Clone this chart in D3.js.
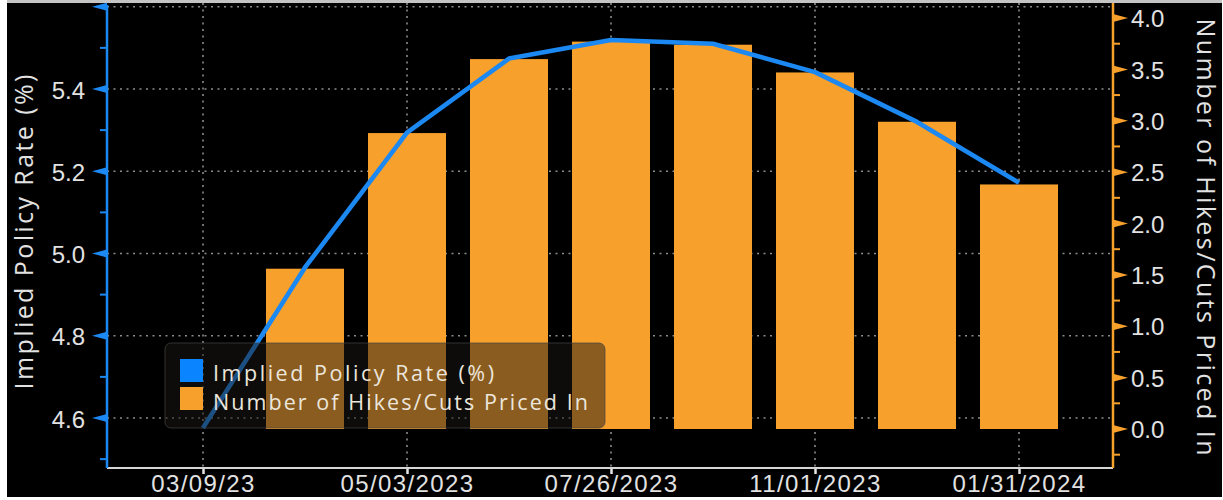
<!DOCTYPE html>
<html>
<head>
<meta charset="utf-8">
<script src="https://cdn.jsdelivr.net/npm/d3@7"></script>
<style>
  body { margin: 0; background: #fff; }
  svg { display: block; font-family: "Open Sans", "DejaVu Sans", sans-serif; }
</style>
</head>
<body>
<svg id="chart" width="1223" height="500"></svg>
<script>
// FOMC meeting dates (first entry is the pricing date)
const meetings = ["03/09/23", "03/22/2023", "05/03/2023", "06/14/2023", "07/26/2023",
                  "09/20/2023", "11/01/2023", "12/13/2023", "01/31/2024"];
const tickLabels = ["03/09/23", "05/03/2023", "07/26/2023", "11/01/2023", "01/31/2024"];
const tickMeetings = ["03/09/23", "05/03/2023", "07/26/2023", "11/01/2023", "01/31/2024"];

// Implied policy rate (%) at each meeting
const impliedRate = [4.576, 4.966, 5.294, 5.474, 5.519, 5.510, 5.441, 5.320, 5.172];
// Number of hikes/cuts priced in (no bar on the pricing date)
const hikesPricedIn = [null, 1.56, 2.88, 3.60, 3.77, 3.74, 3.47, 2.99, 2.38];

const rateTicks = [4.6, 4.8, 5.0, 5.2, 5.4, 5.6];
const rateMinor = [4.5, 4.7, 4.9, 5.1, 5.3, 5.5];
const hikeTicks = [0, 0.5, 1.0, 1.5, 2.0, 2.5, 3.0, 3.5, 4.0];
const hikeMinor = [-0.25, 0.25, 0.75, 1.25, 1.75, 2.25, 2.75, 3.25, 3.75];

const seriesNames = ["Implied Policy Rate (%)", "Number of Hikes/Cuts Priced In"];

const BLUE = "#1c88f2", BLUE_SW = "#0b85ff", ORANGE = "#f8a02c";
const TEXT = "#e2e2e2";

const svg = d3.select("#chart");
const frame = { left: 107, right: 1113, top: 3, bottom: 468 };

const x = d3.scalePoint().domain(meetings).range([203, 1019]);
const yRate = d3.scaleLinear().domain([4.6, 5.4]).range([418, 89]);
const yHikes = d3.scaleLinear().domain([0, 4]).range([429, 18]);

// page frame
svg.append("rect").attr("x", 7).attr("y", 0).attr("width", 1215).attr("height", 3).attr("fill", "#c4c4c4");
svg.append("rect").attr("x", 7).attr("y", 3).attr("width", 1215).attr("height", 494).attr("fill", "#000");

// dotted grid
const grid = svg.append("g").attr("stroke", "#8c8c8c").attr("stroke-width", 1.6)
  .attr("stroke-dasharray", "2,4.5");
grid.selectAll("line.h").data(rateTicks).join("line").attr("class", "h")
  .attr("x1", frame.left).attr("x2", frame.right)
  .attr("y1", d => yRate(d)).attr("y2", d => yRate(d));
grid.selectAll("line.v").data(tickMeetings).join("line").attr("class", "v")
  .attr("x1", d => x(d)).attr("x2", d => x(d))
  .attr("y1", frame.top).attr("y2", frame.bottom);

// bars
const barW = 78;
svg.append("g").selectAll("rect")
  .data(meetings.map((m, i) => ({ m, v: hikesPricedIn[i] })).filter(d => d.v != null))
  .join("rect")
  .attr("x", d => x(d.m) - barW / 2)
  .attr("width", barW)
  .attr("y", d => yHikes(d.v))
  .attr("height", d => yHikes(0) - yHikes(d.v))
  .attr("fill", ORANGE);

// implied rate line
const line = d3.line().x((d, i) => x(meetings[i])).y(d => yRate(d));
svg.append("path").datum(impliedRate)
  .attr("d", line)
  .attr("fill", "none")
  .attr("stroke", BLUE)
  .attr("stroke-width", 4.6)
  .attr("stroke-linejoin", "round");

// x axis
const xAxis = d3.axisBottom(x).tickValues(tickMeetings)
  .tickFormat((d, i) => tickLabels[i]).tickSize(6).tickPadding(1);
const gx = svg.append("g").attr("transform", `translate(0,${frame.bottom})`).call(xAxis);
gx.select(".domain").remove();
gx.selectAll(".tick line").attr("stroke", "#e6e6e6").attr("stroke-width", 2.5);
gx.selectAll(".tick text").attr("fill", TEXT).attr("font-size", 24)
  .attr("letter-spacing", 1.4).attr("font-family", null);
svg.append("line").attr("x1", frame.left).attr("x2", frame.right)
  .attr("y1", frame.bottom).attr("y2", frame.bottom)
  .attr("stroke", "#d6d6d6").attr("stroke-width", 2);

// left axis (policy rate)
const gl = svg.append("g").attr("transform", `translate(${frame.left},0)`)
  .call(d3.axisLeft(yRate).tickValues(rateTicks).tickSize(0).tickPadding(22)
    .tickFormat(d => d > 5.5 ? "" : d3.format(".1f")(d)));
gl.select(".domain").remove();
gl.selectAll(".tick text").attr("fill", TEXT).attr("font-size", 24).attr("dy", "0.38em")
  .attr("font-family", null);
svg.append("line").attr("x1", frame.left).attr("x2", frame.left)
  .attr("y1", 5).attr("y2", frame.bottom).attr("stroke", BLUE).attr("stroke-width", 2.5);
svg.append("g").selectAll("path").data(rateTicks).join("path")
  .attr("d", d => `M${frame.left},${yRate(d) - 4}L${frame.left - 15},${yRate(d)}L${frame.left},${yRate(d) + 4}Z`)
  .attr("fill", BLUE);
svg.append("g").selectAll("line").data(rateMinor).join("line")
  .attr("x1", frame.left - 7).attr("x2", frame.left)
  .attr("y1", d => yRate(d)).attr("y2", d => yRate(d))
  .attr("stroke", BLUE).attr("stroke-width", 2);

// right axis (hikes/cuts)
const gr = svg.append("g").attr("transform", `translate(${frame.right},0)`)
  .call(d3.axisRight(yHikes).tickValues(hikeTicks).tickSize(0).tickPadding(18)
    .tickFormat(d3.format(".1f")));
gr.select(".domain").remove();
gr.selectAll(".tick text").attr("fill", TEXT).attr("font-size", 24).attr("dy", "0.36em")
  .attr("font-family", null);
svg.append("line").attr("x1", frame.right).attr("x2", frame.right)
  .attr("y1", frame.top).attr("y2", frame.bottom).attr("stroke", ORANGE).attr("stroke-width", 2.5);
svg.append("g").selectAll("path").data(hikeTicks).join("path")
  .attr("d", d => `M${frame.right},${yHikes(d) - 4}L${frame.right + 15},${yHikes(d)}L${frame.right},${yHikes(d) + 4}Z`)
  .attr("fill", ORANGE);
svg.append("g").selectAll("line").data(hikeMinor).join("line")
  .attr("x1", frame.right).attr("x2", frame.right + 7)
  .attr("y1", d => yHikes(d)).attr("y2", d => yHikes(d))
  .attr("stroke", ORANGE).attr("stroke-width", 2);

// axis titles
svg.append("text")
  .attr("transform", "translate(33,232) rotate(-90)")
  .attr("text-anchor", "middle").attr("font-size", 25).attr("fill", TEXT)
  .attr("textLength", 315).attr("lengthAdjust", "spacing")
  .text(seriesNames[0]);
svg.append("text")
  .attr("transform", "translate(1197,237) rotate(90)")
  .attr("text-anchor", "middle").attr("font-size", 25).attr("fill", TEXT)
  .attr("textLength", 437).attr("lengthAdjust", "spacing")
  .text(seriesNames[1]);

// legend
const lg = svg.append("g");
lg.append("rect").attr("x", 165).attr("y", 343).attr("width", 440).attr("height", 85).attr("rx", 6)
  .attr("fill", "rgba(28,24,20,0.5)").attr("stroke", "rgba(70,70,70,0.7)").attr("stroke-width", 1);
const legendItems = [
  { name: seriesNames[0], color: BLUE_SW, y: 359, base: 380.5, len: 281 },
  { name: seriesNames[1], color: ORANGE, y: 387, base: 410, len: 375 }
];
legendItems.forEach(it => {
  lg.append("rect").attr("x", 180).attr("y", it.y).attr("width", 23).attr("height", 23).attr("fill", it.color);
  lg.append("text").attr("x", 213).attr("y", it.base).attr("font-size", 21.5)
    .attr("fill", "#ece6dc").attr("textLength", it.len).attr("lengthAdjust", "spacing")
    .text(it.name);
});
</script>
</body>
</html>
